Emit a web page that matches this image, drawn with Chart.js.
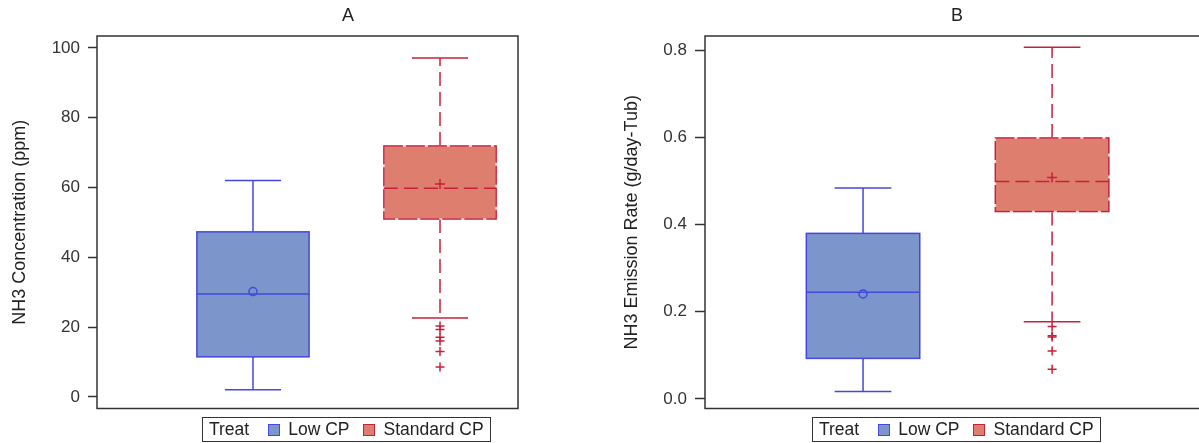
<!DOCTYPE html>
<html>
<head>
<meta charset="utf-8">
<script src="https://cdn.jsdelivr.net/npm/chart.js@4.4.1/dist/chart.umd.min.js"></script>
<style>
  html, body { margin: 0; padding: 0; background: #fff; overflow: hidden; }
  body { position: relative; width: 1199px; height: 443px; font-family: "Liberation Sans", Arial, sans-serif; color: #222; }
  .wrap { position: absolute; top: 0; height: 443px; }
  .title { position: absolute; top: 5px; font-size: 18px; transform: translateX(-50%); }
  .legend { position: absolute; top: 417px; height: 23px; border: 1px solid #333; display: flex; align-items: center; font-size: 17.5px; padding: 0 6px; box-sizing: content-box; }
  .legend .sw { width: 10px; height: 10px; border: 1px solid; margin-right: 8px; }
  .legend .lab { margin-right: 14px; }
  .legend .lab:last-child { margin-right: 0; }
</style>
</head>
<body>
<div class="wrap" style="left:0;width:600px"><canvas id="chartA" width="600" height="443"></canvas></div>
<div class="wrap" style="left:600px;width:620px"><canvas id="chartB" width="620" height="443"></canvas></div>
<div class="title" style="left:348px">A</div>
<div class="title" style="left:957px">B</div>
<div class="legend" style="left:202px">
  <span style="margin-right:19px">Treat</span>
  <span class="sw" style="background:#7c95ca;border-color:#4646e0"></span><span class="lab">Low CP</span>
  <span class="sw" style="background:#de7e6f;border-color:#c8203a"></span><span class="lab">Standard CP</span>
</div>
<div class="legend" style="left:812px">
  <span style="margin-right:19px">Treat</span>
  <span class="sw" style="background:#7c95ca;border-color:#4646e0"></span><span class="lab">Low CP</span>
  <span class="sw" style="background:#de7e6f;border-color:#c8203a"></span><span class="lab">Standard CP</span>
</div>
<script>
const groups = ["Low CP", "Standard CP"];
const xPos = [1, 2];

// A: NH3 concentration (ppm)
const concMin = [2.1, 22.6];
const concQ1 = [11.5, 51.0];
const concMedian = [29.5, 59.8];
const concMean = [30.2, 61.0];
const concQ3 = [47.3, 71.9];
const concMax = [62.0, 97.1];
const concOutliers = [20.3, 19.3, 17.1, 16.0, 13.0, 8.6];
const concTicks = [0, 20, 40, 60, 80, 100];

// B: NH3 emission rate (g/day-Tub)
const rateMin = [0.017, 0.177];
const rateQ1 = [0.093, 0.430];
const rateMedian = [0.245, 0.499];
const rateMean = [0.241, 0.508];
const rateQ3 = [0.380, 0.599];
const rateMax = [0.484, 0.807];
const rateOutliers = [0.166, 0.145, 0.142, 0.110, 0.068];
const rateTicks = [0, 0.2, 0.4, 0.6, 0.8];

const styles = [
  { fill: "#7c95ca", line: "#4646e0", dash: [], boxDash: [], gap: null },
  { fill: "#de7e6f", line: "#c8203a", dash: [14, 6], boxDash: [19, 3], gap: "#f6d8d2" },
];

function seg(ctx, x1, y1, x2, y2) {
  ctx.beginPath();
  ctx.moveTo(x1, y1);
  ctx.lineTo(x2, y2);
  ctx.stroke();
}

const boxPlugin = {
  id: "boxes",
  beforeDatasetsDraw(chart, args, opts) {
    const { ctx, scales: { x, y } } = chart;
    xPos.forEach((pos, i) => {
      const st = styles[i];
      const cx = x.getPixelForValue(pos);
      const half = x.getPixelForValue(pos + 0.3) - cx;
      const cap = x.getPixelForValue(pos + 0.15) - cx;
      const yMin = y.getPixelForValue(opts.min[i]);
      const yQ1 = y.getPixelForValue(opts.q1[i]);
      const yMed = y.getPixelForValue(opts.median[i]);
      const yQ3 = y.getPixelForValue(opts.q3[i]);
      const yMax = y.getPixelForValue(opts.max[i]);
      ctx.save();
      ctx.lineWidth = 1.5;
      ctx.strokeStyle = st.line;
      ctx.setLineDash(st.dash);
      seg(ctx, cx, yQ3, cx, yMax);
      seg(ctx, cx, yQ1, cx, yMin);
      ctx.setLineDash([]);
      seg(ctx, cx - cap, yMax, cx + cap, yMax);
      seg(ctx, cx - cap, yMin, cx + cap, yMin);
      ctx.fillStyle = st.fill;
      ctx.fillRect(cx - half, yQ3, 2 * half, yQ1 - yQ3);
      if (st.gap) {
        ctx.strokeStyle = st.gap;
        ctx.strokeRect(cx - half, yQ3, 2 * half, yQ1 - yQ3);
        ctx.strokeStyle = st.line;
      }
      ctx.setLineDash(st.boxDash);
      ctx.strokeRect(cx - half, yQ3, 2 * half, yQ1 - yQ3);
      ctx.setLineDash(st.dash);
      seg(ctx, cx - half, yMed, cx + half, yMed);
      ctx.restore();
    });
  },
  afterDatasetsDraw(chart) {
    const { ctx, chartArea: a } = chart;
    ctx.save();
    ctx.strokeStyle = "#333";
    ctx.lineWidth = 1.5;
    ctx.strokeRect(a.left, a.top, a.right - a.left, a.bottom - a.top);
    ctx.restore();
  },
};

function makeChart(id, p) {
  return new Chart(document.getElementById(id), {
    type: "scatter",
    data: {
      datasets: [
        {
          label: groups[0] + " mean",
          data: [{ x: xPos[0], y: p.mean[0] }],
          pointStyle: "circle",
          pointRadius: 4,
          borderColor: styles[0].line,
          backgroundColor: "rgba(0,0,0,0)",
          borderWidth: 1.5,
        },
        {
          label: groups[1] + " mean",
          data: [{ x: xPos[1], y: p.mean[1] }],
          pointStyle: "cross",
          pointRadius: 5,
          borderColor: styles[1].line,
          borderWidth: 1.5,
        },
        {
          label: groups[1] + " outliers",
          data: p.outliers.map((v) => ({ x: xPos[1], y: v })),
          pointStyle: "cross",
          pointRadius: 4.5,
          borderColor: styles[1].line,
          borderWidth: 1.5,
        },
      ],
    },
    options: {
      responsive: false,
      animation: false,
      events: [],
      layout: { padding: { top: 36, bottom: 34.5, left: 0, right: p.padRight } },
      plugins: {
        legend: { display: false },
        tooltip: { enabled: false },
        boxes: { min: p.min, q1: p.q1, median: p.median, q3: p.q3, max: p.max },
      },
      scales: {
        x: { type: "linear", min: p.xMin, max: p.xMax, display: false },
        y: {
          min: p.yMin,
          max: p.yMax,
          afterBuildTicks: (s) => { s.ticks = p.ticks.map((v) => ({ value: v })); },
          afterFit: (s) => { s.width = p.axisWidth; },
          border: { display: false },
          grid: { drawOnChartArea: false, tickLength: p.tickLength, color: "#333", tickWidth: 1.5 },
          ticks: {
            padding: 8,
            color: "#333",
            font: { family: "'Liberation Sans', Arial, sans-serif", size: 17 },
            callback: p.fmt,
          },
          title: {
            display: true,
            text: p.title,
            color: "#222",
            padding: { top: p.titlePad, bottom: 0 },
            font: { family: "'Liberation Sans', Arial, sans-serif", size: 18 },
          },
        },
      },
    },
    plugins: [boxPlugin],
  });
}

makeChart("chartA", {
  min: concMin, q1: concQ1, median: concMedian, q3: concQ3, max: concMax,
  mean: concMean, outliers: concOutliers, ticks: concTicks,
  yMin: -3.3, yMax: 103.4, xMin: 0.166, xMax: 2.417,
  axisWidth: 97, padRight: 82, tickLength: 9, titlePad: 9,
  title: "NH3 Concentration (ppm)", fmt: (v) => String(v),
});

makeChart("chartB", {
  min: rateMin, q1: rateQ1, median: rateMedian, q3: rateQ3, max: rateMax,
  mean: rateMean, outliers: rateOutliers, ticks: rateTicks,
  yMin: -0.022, yMax: 0.833, xMin: 0.164, xMax: 2.83,
  axisWidth: 105, padRight: 11, tickLength: 10, titlePad: 21,
  title: "NH3 Emission Rate (g/day-Tub)", fmt: (v) => Number(v).toFixed(1),
});
</script>
</body>
</html>
